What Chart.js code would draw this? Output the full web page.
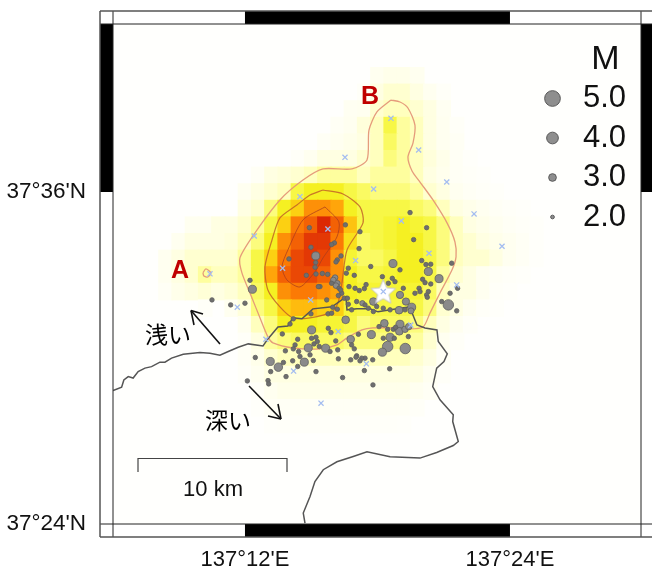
<!DOCTYPE html>
<html>
<head>
<meta charset="utf-8">
<style>
  html, body { margin: 0; padding: 0; background: #fff; }
  canvas { display: block; }
</style>
<script src="https://cdn.jsdelivr.net/npm/chart.js@4"></script>
</head>
<body>
<canvas id="MyChart" width="652" height="570"></canvas>
<script>
// tick labels
let lonTicks = [137.2, 137.4];
let lonLabels = ["137°12'E", "137°24'E"];
let latTicks = [37.4, 37.6];
let latLabels = ["37°24'N", "37°36'N"];

// density grid, 0.01 degree cells, level 0-10
let heatLons = [137.14, 137.15, 137.16, 137.17, 137.18, 137.19, 137.20, 137.21, 137.22, 137.23, 137.24, 137.25, 137.26, 137.27, 137.28, 137.29, 137.30, 137.31, 137.32, 137.33, 137.34, 137.35, 137.36, 137.37, 137.38, 137.39, 137.40, 137.41, 137.42];
let heatLats = [37.67, 37.66, 37.65, 37.64, 37.63, 37.62, 37.61, 37.60, 37.59, 37.58, 37.57, 37.56, 37.55, 37.54, 37.53, 37.52, 37.51, 37.50, 37.49, 37.48, 37.47, 37.46];
let heatRows = [
  [0, 0, 0, 0, 0, 0, 0, 0, 0, 0, 0, 0, 0, 0, 0, 0, .5, .7, .7, .5, 0, 0, 0, 0, 0, 0, 0, 0, 0],
  [0, 0, 0, 0, 0, 0, 0, 0, 0, 0, 0, 0, 0, 0, 0, .2, 1, 1.5, 1.5, 1, .5, .2, 0, 0, 0, 0, 0, 0, 0],
  [0, 0, 0, 0, 0, 0, 0, 0, 0, 0, 0, 0, 0, 0, .4, .5, 1.5, 2, 2, 1.5, 1, .4, 0, 0, 0, 0, 0, 0, 0],
  [0, 0, 0, 0, 0, 0, 0, 0, 0, 0, 0, 0, 0, .3, .5, 1.2, 2, 4, 2.5, 2, 1, .5, .2, 0, 0, 0, 0, 0, 0],
  [0, 0, 0, 0, 0, 0, 0, 0, 0, 0, 0, 0, .3, .5, .7, 1, 2, 3.5, 2.5, 2, 1, .5, .3, 0, 0, 0, 0, 0, 0],
  [0, 0, 0, 0, 0, 0, 0, 0, 0, 0, .2, .5, 1, 1, 1, 1.5, 2, 3, 2.5, 2, 1.2, .7, .3, .1, 0, 0, 0, 0, 0],
  [0, 0, 0, 0, 0, 0, 0, .3, 1, 1.2, 1.5, 2, 2.5, 2.5, 2.5, 2, 2.5, 2.5, 2.5, 2, 1, .6, .3, .2, .1, 0, 0, 0, 0],
  [0, 0, 0, 0, 0, 0, .5, 1, 1.5, 2, 4, 5, 5, 5, 4, 3.5, 3, 3, 3, 2.5, 1.5, 1, .5, .3, .2, .1, 0, 0, 0],
  [0, 0, 0, 0, 0, 0, 1, 1.5, 3, 5, 6, 7.5, 7.5, 7, 5, 4, 4, 4, 4, 3.5, 3, 2, 1, .7, .5, .3, .2, .1, 0],
  [0, 0, .5, .5, 1, 1, 1.5, 2.5, 4, 6, 8, 8.5, 10, 8.5, 6.3, 4, 4, 4.5, 5, 4.5, 4, 3, 2, 1, .7, .5, .3, .2, .1],
  [0, .5, 1, 1, 1, 1.2, 2, 3, 5, 7.5, 8.5, 9.5, 9.5, 8, 5.5, 3.5, 4, 4.5, 5, 5, 4, 3, 2, 1.5, 1, .7, .5, .3, .1],
  [.5, 1, 1.5, 1.5, 1.5, 1.5, 2.5, 4, 6, 8, 9, 9.5, 9, 7.5, 4.5, 3.5, 3.5, 4, 5, 5, 4, 3, 2, 1.5, 1.5, 1, .5, .3, .1],
  [.5, 1, 1.5, 2.5, 2, 2, 2.5, 4, 7, 8.5, 9, 9, 8.5, 7.5, 5, 4, 4, 4.5, 5, 5, 4, 2.5, 1.5, 1, .5, .3, .2, .1, 0],
  [.3, .7, 1, 1.3, 1, 1.3, 2, 3.5, 5, 7.5, 8, 8, 7.5, 7, 5, 4.5, 4.5, 4.5, 4.5, 4.5, 3.5, 2, 1, 1, .5, .2, .1, 0, 0],
  [0, 0, 0, .2, 0, .5, 1.2, 3, 4, 6, 6.5, 6.5, 6, 6, 4.3, 4, 4, 4, 4, 4, 3, 1.5, 1, .5, .2, .1, 0, 0, 0],
  [0, 0, 0, 0, 0, 0, .5, 2, 3, 5, 5, 5, 4.5, 4.5, 4, 3, 3.5, 3.5, 3.5, 3, 2, 1, .5, .2, 0, 0, 0, 0, 0],
  [0, 0, 0, 0, 0, 0, .2, 1, 2.5, 3, 3.5, 3.5, 3.5, 3.5, 3, 3, 3, 3, 3, 2.5, 1.5, .5, .2, 0, 0, 0, 0, 0, 0],
  [0, 0, 0, 0, 0, 0, .3, .7, 1.5, 2, 2, 2, 2, 2, 2, 2, 2, 2, 2, 1.5, 1, .3, 0, 0, 0, 0, 0, 0, 0],
  [0, 0, 0, 0, 0, 0, .2, .5, 1, 1, 1, 1, 1, 1, 1, 1, 1, 1, 1, 1, .5, .2, 0, 0, 0, 0, 0, 0, 0],
  [0, 0, 0, 0, 0, 0, 0, .2, .5, .7, .7, .7, .7, .7, .7, .7, .7, .7, .7, .5, .3, 0, 0, 0, 0, 0, 0, 0, 0],
  [0, 0, 0, 0, 0, 0, 0, .1, .3, .3, .3, .3, .3, .3, .3, .3, .3, .3, .3, .2, 0, 0, 0, 0, 0, 0, 0, 0, 0],
  [0, 0, 0, 0, 0, 0, 0, 0, .1, .15, .15, .15, .15, .15, .15, .15, .15, .15, .1, 0, 0, 0, 0, 0, 0, 0, 0, 0, 0],
];

// earthquakes
let quakeLon = [137.2534, 137.2332, 137.2534, 137.2529, 137.2463, 137.2536, 137.2584, 137.2624, 137.2038, 137.2056, 137.1892, 137.2000, 137.1751, 137.2697, 137.2687, 137.2725, 137.3117, 137.3170, 137.2949, 137.2780, 137.2765, 137.2825, 137.2680, 137.2667, 137.2697, 137.2654, 137.2687, 137.2710, 137.2566, 137.2554, 137.2617, 137.2785, 137.2831, 137.2863, 137.2901, 137.2914, 137.3037, 137.3112, 137.3082, 137.3132, 137.3195, 137.3170, 137.3215, 137.3384, 137.3465, 137.3334, 137.3366, 137.3402, 137.3560, 137.3341, 137.3359, 137.3402, 137.3314, 137.3321, 137.3384, 137.3371, 137.3376, 137.3283, 137.3258, 137.3253, 137.3163, 137.2969, 137.2886, 137.2906, 137.2780, 137.2843, 137.2805, 137.2750, 137.2730, 137.2705, 137.2722, 137.2931, 137.2994, 137.2969, 137.3044, 137.3095, 137.3208, 137.3535, 137.3485, 137.3598, 137.3548, 137.3605, 137.2760, 137.3052, 137.3170, 137.3165, 137.3208, 137.3236, 137.3095, 137.2954, 137.2798, 137.3077, 137.3037, 137.3210, 137.2503, 137.2478, 137.2609, 137.2191, 137.2252, 137.2448, 137.2282, 137.2398, 137.2378, 137.2365, 137.2305, 137.2503, 137.2536, 137.2546, 137.2561, 137.2521, 137.2629, 137.2649, 137.2685, 137.2700, 137.2805, 137.2825, 137.2856, 137.3012, 137.3077, 137.3120, 137.3137, 137.3233, 137.3044, 137.3127, 137.2964, 137.2906, 137.2843, 137.2838, 137.2881, 137.2868, 137.2798, 137.2705, 137.2642, 137.2491, 137.2516, 137.2405, 137.2415, 137.2360, 137.2398, 137.2290, 137.2310, 137.2194, 137.2078, 137.2018, 137.2174, 137.2179, 137.2536, 137.2737, 137.2901, 137.3092, 137.2966, 137.3246, 137.3371, 137.3273, 137.2758, 137.2868, 137.2861, 137.2486, 137.2498, 137.2675, 137.2654, 137.2627, 137.2654, 137.2697, 137.2662, 137.2498, 137.2365, 137.2340, 137.2773];
let quakeLat = [37.5615, 37.5597, 37.5575, 37.5547, 37.5498, 37.5506, 37.5509, 37.5504, 37.5468, 37.5414, 37.5320, 37.5330, 37.5350, 37.5591, 37.5579, 37.5615, 37.5569, 37.5531, 37.5551, 37.5541, 37.5511, 37.5498, 37.5484, 37.5470, 37.5450, 37.5450, 37.5436, 37.5420, 37.5430, 37.5430, 37.5350, 37.5430, 37.5420, 37.5406, 37.5418, 37.5442, 37.5490, 37.5480, 37.5450, 37.5460, 37.5420, 37.5380, 37.5340, 37.5521, 37.5478, 37.5587, 37.5563, 37.5565, 37.5571, 37.5474, 37.5454, 37.5446, 37.5420, 37.5400, 37.5400, 37.5380, 37.5366, 37.5390, 37.5306, 37.5284, 37.5288, 37.5340, 37.5330, 37.5320, 37.5324, 37.5340, 37.5290, 37.5360, 37.5390, 37.5376, 37.5410, 37.5300, 37.5310, 37.5280, 37.5300, 37.5290, 37.5290, 37.5320, 37.5340, 37.5284, 37.5390, 37.5420, 37.5230, 37.5209, 37.5203, 37.5161, 37.5173, 37.5189, 37.5125, 37.5141, 37.5113, 37.5069, 37.5035, 37.5057, 37.5169, 37.5061, 37.5059, 37.4979, 37.4945, 37.4975, 37.5145, 37.5113, 37.5079, 37.5055, 37.5043, 37.5119, 37.5125, 37.5099, 37.5069, 37.5085, 37.5179, 37.5153, 37.5103, 37.5049, 37.5079, 37.5055, 37.5143, 37.5189, 37.5173, 37.5173, 37.5185, 37.5129, 37.5119, 37.5119, 37.4989, 37.4999, 37.5013, 37.5005, 37.4999, 37.4983, 37.4989, 37.4995, 37.5039, 37.5019, 37.4985, 37.5039, 37.5009, 37.4983, 37.4949, 37.4973, 37.4888, 37.4918, 37.5003, 37.4862, 37.4864, 37.4844, 37.4918, 37.4882, 37.4924, 37.4935, 37.4838, 37.5876, 37.5785, 37.5713, 37.5802, 37.5761, 37.5659, 37.5785, 37.5667, 37.5693, 37.5683, 37.5266, 37.5270, 37.5294, 37.5306, 37.5266, 37.5236, 37.5205, 37.5360];
let quakeMag = [3.1, 2.2, 2.2, 2.2, 2.2, 2.2, 2.2, 2.2, 2.2, 3.1, 2.2, 2.2, 2.2, 2.2, 2.2, 2.2, 3.1, 2.2, 2.2, 2.2, 2.2, 2.2, 2.5, 2.5, 2.5, 2.2, 2.5, 2.2, 2.2, 2.2, 2.2, 2.2, 2.2, 2.2, 2.2, 2.2, 2.2, 2.2, 2.2, 2.2, 2.2, 2.9, 2.9, 3.1, 3.1, 2.2, 2.2, 2.2, 2.2, 2.2, 2.2, 2.2, 2.2, 2.2, 2.2, 2.2, 2.2, 2.2, 3.1, 2.6, 3.0, 3.0, 2.4, 2.2, 2.2, 2.2, 2.2, 2.2, 2.2, 2.2, 2.2, 2.2, 2.2, 2.2, 2.2, 2.2, 2.2, 3.7, 2.2, 2.2, 2.2, 2.2, 3.0, 3.0, 3.1, 3.0, 2.7, 2.7, 3.1, 3.1, 3.0, 3.7, 3.1, 3.7, 3.1, 3.1, 3.1, 3.1, 3.2, 3.1, 2.2, 2.2, 2.2, 2.2, 2.2, 2.2, 2.2, 2.2, 2.2, 2.2, 2.2, 2.2, 2.2, 2.2, 2.2, 2.2, 2.2, 2.2, 2.2, 2.2, 2.2, 2.2, 2.2, 2.2, 2.2, 2.2, 2.2, 2.2, 2.2, 2.2, 2.2, 2.2, 2.2, 2.2, 2.2, 2.2, 2.2, 2.2, 2.2, 2.2, 2.2, 2.2, 2.2, 2.2, 2.2, 2.2, 2.2, 2.2, 2.2, 2.2, 2.2, 2.2, 2.2, 2.2, 2.2, 2.2, 2.2, 2.2, 2.2, 2.2, 2.2, 2.2, 2.2, 2.2, 2.2, 2.2, 2.2, 2.2, 2.2];

// blue crosses
let crossLon = [137.3102, 137.3311, 137.2755, 137.3523, 137.3729, 137.3940, 137.2971, 137.2415, 137.3180, 137.2070, 137.2626, 137.3389, 137.2835, 137.2284, 137.1736, 137.2496, 137.1942, 137.3598, 137.2158, 137.2704, 137.3251, 137.2916, 137.2367, 137.2574, 137.3044];
let crossLat = [37.6444, 37.6253, 37.6209, 37.6060, 37.5868, 37.5673, 37.6018, 37.5972, 37.5826, 37.5735, 37.5777, 37.5631, 37.5587, 37.5541, 37.5507, 37.5350, 37.5306, 37.5440, 37.5113, 37.5159, 37.5198, 37.4965, 37.4921, 37.4728, 37.5400];

// main shock
let starLon = [137.3044];
let starLat = [37.5400];

// contours
let outerLon = [137.3102, 137.3170, 137.3230, 137.3283, 137.3268, 137.3230, 137.3261, 137.3321, 137.3419, 137.3525, 137.3585, 137.3593, 137.3563, 137.3472, 137.3397, 137.3344, 137.3223, 137.3132, 137.2966, 137.2883, 137.2770, 137.2694, 137.2566, 137.2362, 137.2211, 137.2173, 137.2113, 137.2053, 137.1977, 137.1962, 137.2075, 137.2264, 137.2438, 137.2589, 137.2808, 137.2921, 137.2936, 137.2996, 137.3102];
let outerLat = [37.6554, 37.6542, 37.6506, 37.6403, 37.6295, 37.6211, 37.6127, 37.6060, 37.5952, 37.5814, 37.5699, 37.5609, 37.5531, 37.5392, 37.5272, 37.5187, 37.5175, 37.5181, 37.5181, 37.5169, 37.5121, 37.5079, 37.5055, 37.5061, 37.5091, 37.5127, 37.5242, 37.5362, 37.5513, 37.5603, 37.5753, 37.5952, 37.6072, 37.6139, 37.6139, 37.6193, 37.6373, 37.6482, 37.6554];
let middleLon = [137.2589, 137.2740, 137.2868, 137.2891, 137.2770, 137.2732, 137.2702, 137.2657, 137.2491, 137.2362, 137.2264, 137.2173, 137.2151, 137.2204, 137.2264, 137.2392, 137.2491, 137.2589];
let middleLat = [37.6012, 37.5988, 37.5910, 37.5814, 37.5651, 37.5452, 37.5332, 37.5278, 37.5242, 37.5242, 37.5308, 37.5410, 37.5549, 37.5711, 37.5844, 37.5922, 37.5982, 37.6012];
let innerLon = [137.2604, 137.2709, 137.2694, 137.2589, 137.2528, 137.2415, 137.2317, 137.2279, 137.2324, 137.2438, 137.2604];
let innerLat = [37.5910, 37.5820, 37.5729, 37.5603, 37.5519, 37.5428, 37.5470, 37.5549, 37.5651, 37.5832, 37.5910];
let bumpLon = [137.1683, 137.1705, 137.1743, 137.1720, 137.1690, 137.1683];
let bumpLat = [37.5513, 37.5537, 37.5513, 37.5488, 37.5494, 37.5513];

// coast line
let coastLon = [137.1005, 137.1069, 137.1086, 137.1119, 137.1156, 137.1194, 137.1245, 137.1295, 137.1358, 137.1396, 137.1446, 137.1534, 137.1660, 137.1736, 137.1811, 137.1874, 137.1949, 137.2025, 137.2136, 137.2173, 137.2249, 137.2324, 137.2362, 137.2430, 137.2513, 137.2657, 137.2762, 137.2770, 137.2845, 137.2944, 137.3004, 137.3147, 137.3246, 137.3261, 137.3298, 137.3359, 137.3449, 137.3459, 137.3527, 137.3502, 137.3447, 137.3417, 137.3472, 137.3572, 137.3568, 137.3610, 137.3572, 137.3447, 137.3321, 137.3095, 137.2921, 137.2817, 137.2694, 137.2591, 137.2528, 137.2491, 137.2440, 137.2453];
let coastLat = [37.4804, 37.4824, 37.4868, 37.4888, 37.4879, 37.4918, 37.4939, 37.4948, 37.4975, 37.4975, 37.4999, 37.5023, 37.5033, 37.5029, 37.5017, 37.5039, 37.5065, 37.5085, 37.5073, 37.5115, 37.5187, 37.5193, 37.5242, 37.5236, 37.5296, 37.5308, 37.5368, 37.5290, 37.5296, 37.5296, 37.5278, 37.5296, 37.5308, 37.5272, 37.5199, 37.5181, 37.5169, 37.5099, 37.5025, 37.4979, 37.4939, 37.4828, 37.4748, 37.4658, 37.4617, 37.4497, 37.4473, 37.4431, 37.4397, 37.4405, 37.4435, 37.4407, 37.4375, 37.4327, 37.4256, 37.4166, 37.4066, 37.4006];

// legend
let legendMags = [5, 4, 3, 2];
let legendLabels = ['5.0', '4.0', '3.0', '2.0'];

function toPoints(xs, ys) {
  return xs.map((x, i) => ({ x: x, y: ys[i] }));
}

function magRadius(m) {
  return 1.85 + (m - 2) * 2;
}

// colour ramp for the grid levels
const ramp = [[255, 255, 253], [255, 255, 226], [255, 255, 190], [252, 252, 125], [247, 247, 70], [245, 240, 34], [252, 208, 18], [255, 165, 10], [251, 122, 5], [234, 72, 5], [220, 40, 4]];
function heatColor(v) {
  let i = Math.min(Math.floor(v), 9);
  let t = v - i;
  let c = ramp[i].map((a, n) => Math.round(a + (ramp[i + 1][n] - a) * t));
  return `rgb(${c[0]},${c[1]},${c[2]})`;
}

let heatData = [];
let heatColors = [];
heatRows.forEach((row, r) => {
  row.forEach((v, c) => {
    if (v > 0) {
      heatData.push({ x: heatLons[c], y: [heatLats[r] - 0.0051, heatLats[r] + 0.0051] });
      heatColors.push(heatColor(v));
    }
  });
});

// white star for the main shock
function makeStar() {
  let cv = document.createElement('canvas');
  cv.width = 28;
  cv.height = 28;
  let c = cv.getContext('2d');
  c.beginPath();
  for (let i = 0; i < 10; i++) {
    let r = i % 2 === 0 ? 13 : 6;
    let a = -Math.PI / 2 + i * Math.PI / 5;
    c.lineTo(14 + r * Math.cos(a), 15 + r * Math.sin(a));
  }
  c.closePath();
  c.fillStyle = '#ffffff';
  c.fill();
  c.strokeStyle = '#c4c4cc';
  c.lineWidth = 1;
  c.stroke();
  return cv;
}

const sans = '"Liberation Sans", Arial, sans-serif';
const cjk = '"Noto Sans CJK JP", sans-serif';

function line(c, x1, y1, x2, y2) {
  c.beginPath();
  c.moveTo(x1, y1);
  c.lineTo(x2, y2);
  c.stroke();
}

function arrow(c, tx, ty, hx, hy, ax, ay, bx, by) {
  c.strokeStyle = '#111';
  c.lineWidth = 1.6;
  line(c, tx, ty, hx, hy);
  line(c, ax, ay, hx, hy);
  line(c, bx, by, hx, hy);
}

function label(c, text, x, y, font, color, align) {
  c.font = font;
  c.fillStyle = color;
  c.textAlign = align || 'center';
  c.textBaseline = 'middle';
  c.fillText(text, x, y);
}

const mapDecor = {
  id: 'mapDecor',
  beforeDatasetsDraw(chart) {
    const a = chart.chartArea;
    chart.ctx.fillStyle = '#fffffd';
    chart.ctx.fillRect(a.left, a.top, a.right - a.left, a.bottom - a.top);
  },
  afterDraw(chart) {
    const c = chart.ctx;
    const a = chart.chartArea;
    const sx = chart.scales.x;
    const sy = chart.scales.y;
    const band = 13;
    c.save();

    // graticule bands
    c.fillStyle = '#000';
    let x1 = sx.getPixelForValue(lonTicks[0]);
    let x2 = sx.getPixelForValue(lonTicks[1]);
    let yMid = sy.getPixelForValue(latTicks[1]);
    c.fillRect(x1, a.top - band, x2 - x1, band);
    c.fillRect(x1, a.bottom, x2 - x1, band);
    c.fillRect(a.left - band, a.top, band, yMid - a.top);
    c.fillRect(a.right, a.top, band, yMid - a.top);

    // frame
    c.strokeStyle = '#222';
    c.lineWidth = 1;
    line(c, a.left - band, a.top, chart.width, a.top);
    line(c, a.left - band, a.bottom, chart.width, a.bottom);
    line(c, a.left, a.top - band, a.left, a.bottom + band);
    line(c, a.right, a.top - band, a.right, a.bottom + band);
    c.strokeStyle = '#555';
    c.lineWidth = 1.5;
    line(c, a.left - band, a.top - band, chart.width, a.top - band);
    line(c, a.left - band, a.bottom + band, chart.width, a.bottom + band);
    line(c, a.left - band, a.top - band, a.left - band, a.bottom + band);

    // scale bar
    c.strokeStyle = '#444';
    c.lineWidth = 1.2;
    c.beginPath();
    c.moveTo(138, 472);
    c.lineTo(138, 458.5);
    c.lineTo(287, 458.5);
    c.lineTo(287, 472);
    c.stroke();
    label(c, '10 km', 213, 490, '22px ' + sans, '#111');

    // notes on the map
    label(c, 'A', 180, 271, 'bold 25px ' + sans, '#c00000');
    label(c, 'B', 370, 97, 'bold 25px ' + sans, '#c00000');
    label(c, '浅い', 168, 334, '23px ' + cjk, '#000');
    label(c, '深い', 228, 420, '23px ' + cjk, '#000');
    arrow(c, 220, 344, 191, 310.5, 203, 314, 194, 325);
    arrow(c, 249, 386, 281, 419, 268, 416, 278, 404);

    // size legend
    label(c, 'M', 605.5, 60, '34px ' + sans, '#111');
    legendMags.forEach((m, i) => {
      let y = 98.5 + i * 39.5;
      c.beginPath();
      c.arc(552.5, y, magRadius(m), 0, Math.PI * 2);
      c.fillStyle = '#8e8e8e';
      c.fill();
      c.strokeStyle = '#5a5a5a';
      c.lineWidth = 1;
      c.stroke();
      label(c, legendLabels[i], 583, y, '31px ' + sans, '#111', 'left');
    });
    c.restore();
  },
};

function contour(xs, ys, color, width) {
  return {
    type: 'scatter',
    showLine: true,
    data: toPoints(xs, ys),
    borderColor: color,
    borderWidth: width,
    pointRadius: 0,
    tension: 0.25,
  };
}

const ctx = document.getElementById('MyChart').getContext('2d');
new Chart(ctx, {
  type: 'scatter',
  plugins: [mapDecor],
  data: {
    // the first dataset ends up on top
    datasets: [
      {
        label: 'crosses',
        data: toPoints(crossLon, crossLat),
        pointStyle: 'crossRot',
        pointRadius: 3.6,
        borderColor: '#a4bdf0',
        pointBorderWidth: 1.3,
      },
      {
        label: 'main shock',
        data: toPoints(starLon, starLat),
        pointStyle: makeStar(),
      },
      {
        label: 'quakes',
        data: toPoints(quakeLon, quakeLat),
        pointStyle: 'circle',
        pointRadius: (c) => magRadius(quakeMag[c.dataIndex]),
        backgroundColor: (c) => (quakeMag[c.dataIndex] > 2.3 ? '#8a8a8a' : '#6e6e6e'),
        borderColor: '#606060',
        pointBorderWidth: 0.8,
      },
      {
        label: 'coast',
        type: 'scatter',
        showLine: true,
        data: toPoints(coastLon, coastLat),
        borderColor: '#555',
        borderWidth: 1.5,
        pointRadius: 0,
      },
      contour(innerLon, innerLat, 'rgba(170,60,30,0.75)', 1),
      contour(middleLon, middleLat, 'rgba(190,90,40,0.8)', 1.2),
      contour(outerLon, outerLat, 'rgba(228,150,120,0.95)', 1.3),
      contour(bumpLon, bumpLat, 'rgba(228,150,120,0.95)', 1.3),
      {
        label: 'density',
        type: 'bar',
        data: heatData,
        backgroundColor: heatColors,
        borderWidth: 0,
        barThickness: 14,
        grouped: false,
      },
    ],
  },
  options: {
    responsive: false,
    animation: false,
    events: [],
    layout: { padding: { top: 24, right: 11 } },
    plugins: { legend: { display: false }, tooltip: { enabled: false } },
    scales: {
      x: {
        type: 'linear',
        offset: false,
        min: 137.1004,
        max: 137.4989,
        grid: { display: false, offset: false, drawTicks: false },
        border: { display: false },
        afterBuildTicks: (s) => { s.ticks = lonTicks.map((v) => ({ value: v })); },
        afterFit: (s) => { s.height = 46; s.paddingLeft = 0; s.paddingRight = 0; },
        ticks: {
          autoSkip: false,
          maxRotation: 0,
          padding: 23,
          color: '#111',
          font: { family: sans, size: 22 },
          callback: (v) => lonLabels[lonTicks.indexOf(v)],
        },
      },
      y: {
        type: 'linear',
        min: 37.4,
        max: 37.7012,
        grid: { display: false, drawTicks: false },
        border: { display: false },
        afterBuildTicks: (s) => { s.ticks = latTicks.map((v) => ({ value: v })); },
        afterFit: (s) => { s.width = 113; s.paddingTop = 0; s.paddingBottom = 0; },
        ticks: {
          autoSkip: false,
          padding: 27,
          color: '#111',
          font: { family: sans, size: 22.5 },
          callback: (v) => latLabels[latTicks.indexOf(v)],
        },
      },
    },
  },
});
</script>
</body>
</html>
